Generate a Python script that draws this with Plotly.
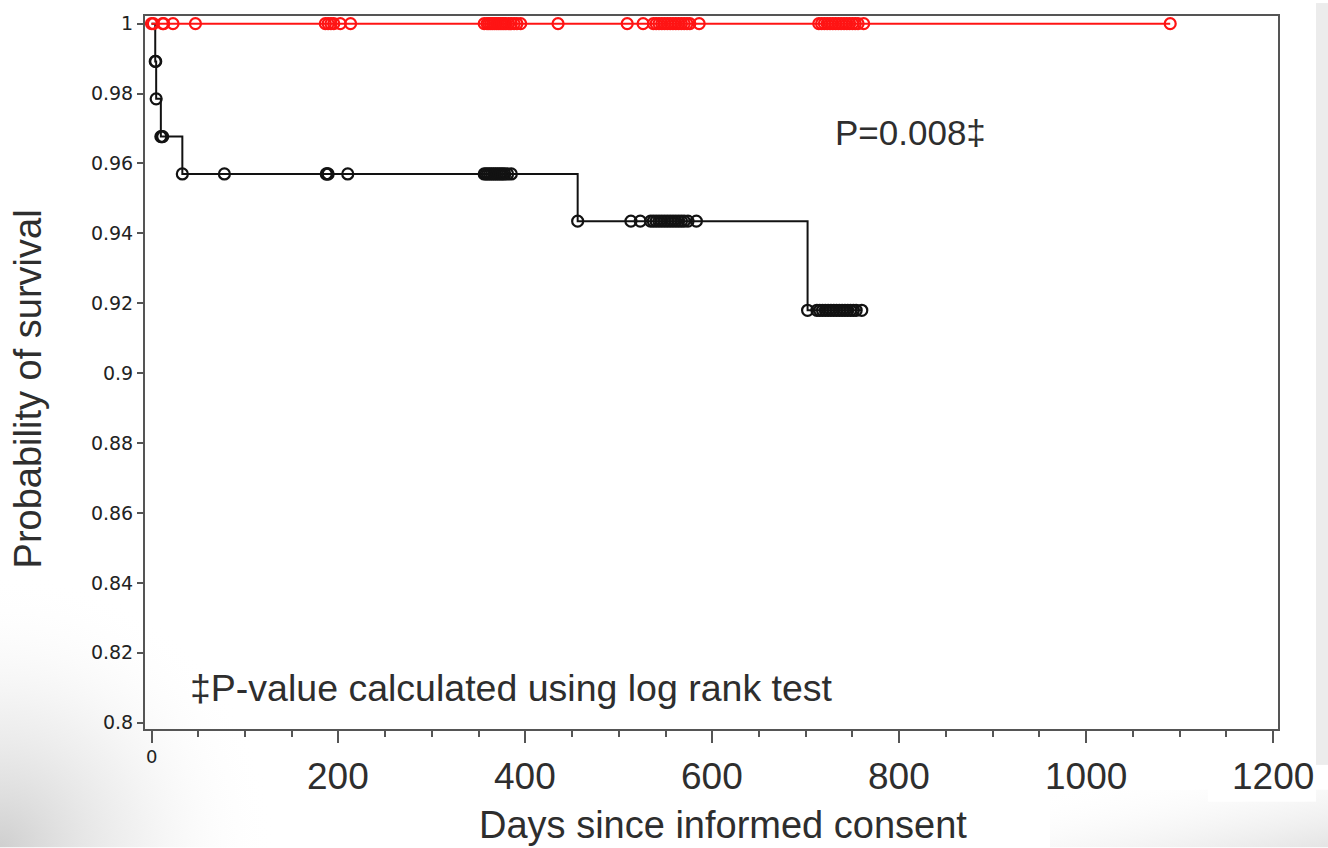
import numpy as np
import urllib.parse
import plotly.graph_objects as go

# ---------------- data ----------------
# Kaplan-Meier step curve, group shown in black
black_times = [0, 4, 5, 10, 33, 456, 702, 760]
black_surv = [1.0, 0.9892, 0.9785, 0.9677, 0.9570, 0.9435, 0.9180, 0.9180]
# censor marks (days) for black group
black_censor = [4, 4.5, 5, 10, 11, 12, 33, 78, 187, 188, 189, 210,
                356, 358, 360, 362, 364, 366, 368, 370, 372, 374, 376, 378, 381, 385,
                456, 513, 523, 534, 537, 540, 543, 546, 549, 552, 555, 558, 561, 564,
                567, 570, 574, 583,
                702, 712, 715, 718, 721, 724, 727, 730, 733, 736, 739, 742, 745, 748,
                751, 754, 760]

# group shown in red: no events
red_times = [0, 1090]
red_surv = [1.0, 1.0]
red_censor = [0, 2, 12, 13, 23, 47, 186, 189, 192, 195, 202, 213,
              356, 359, 361, 363, 365, 367, 369, 371, 373, 375, 377, 379, 382, 385,
              388, 391, 395, 435, 509, 526, 537, 540, 543, 546, 549, 552, 555, 558,
              561, 564, 567, 570, 573, 576, 586, 714, 717, 720, 723, 726, 729, 732,
              735, 738, 741, 744, 747, 750, 753, 756, 762, 1090]

y_ticks = [0.8, 0.82, 0.84, 0.86, 0.88, 0.9, 0.92, 0.94, 0.96, 0.98, 1.0]
y_tick_labels = ["0.8", "0.82", "0.84", "0.86", "0.88", "0.9", "0.92", "0.94",
                 "0.96", "0.98", "1"]
x_major = [0, 200, 400, 600, 800, 1000, 1200]
x_tick_labels = ["0", "200", "400", "600", "800", "1000", "1200"]
x_minor = list(range(0, 1201, 50))

p_text = "P=0.008\u2021"
foot_text = "\u2021P-value calculated using log rank test"
x_title = "Days since informed consent"
y_title = "Probability of survival"


def km_at(times, surv, t):
    idx = np.searchsorted(np.asarray(times), np.asarray(t), side="right") - 1
    return np.asarray(surv)[idx]


# ---------------- layout constants (pixels) ----------------
W, H = 1328, 848
L, R, T, B = 145, 1278, 13, 729
PW, PH = R - L, B - T


def px_x(p):
    return (p - L) / PW


def px_y(p):
    return (B - p) / PH


RED = "#ff1414"
BLK = "#121212"
TXT = "#2e2e2e"
FRAME = "#555555"

fig = go.Figure()

# black curve
fig.add_trace(go.Scatter(x=black_times, y=black_surv, mode="lines",
                         line=dict(color=BLK, width=2, shape="hv"),
                         showlegend=False, hoverinfo="skip"))
fig.add_trace(go.Scatter(x=black_censor, y=km_at(black_times, black_surv, black_censor),
                         mode="markers",
                         marker=dict(symbol="circle-open", size=11, color=BLK,
                                     line=dict(width=2.2, color=BLK)),
                         showlegend=False, hoverinfo="skip"))
# red curve
fig.add_trace(go.Scatter(x=red_times, y=red_surv, mode="lines",
                         line=dict(color=RED, width=2, shape="hv"),
                         showlegend=False, hoverinfo="skip"))
fig.add_trace(go.Scatter(x=red_censor, y=km_at(red_times, red_surv, red_censor),
                         mode="markers",
                         marker=dict(symbol="circle-open", size=11, color=RED,
                                     line=dict(width=2.2, color=RED)),
                         showlegend=False, hoverinfo="skip"))

# background (slide) as an SVG image
svg = (
    f"<svg xmlns='http://www.w3.org/2000/svg' width='{W}' height='{H}'>"
    "<defs>"
    "<radialGradient id='g1' cx='0' cy='1' r='0.6' gradientUnits='objectBoundingBox'>"
    "<stop offset='0' stop-color='#cfcfcf'/><stop offset='0.5' stop-color='#e8e8e8' stop-opacity='0.6'/>"
    "<stop offset='1' stop-color='#ffffff' stop-opacity='0'/>"
    "</radialGradient>"
    "<linearGradient id='g2' x1='0' y1='0' x2='1' y2='1'>"
    "<stop offset='0' stop-color='#ffffff' stop-opacity='0'/><stop offset='1' stop-color='#e4e4e4'/>"
    "</linearGradient>"
    "</defs>"
    f"<rect width='{W}' height='{H}' fill='#ffffff'/>"
    f"<rect x='0' y='{H-460}' width='460' height='460' fill='url(#g1)'/>"
    f"<rect x='1050' y='790' width='{W-1050}' height='{H-790}' fill='url(#g2)'/>"
    f"<rect x='1316' y='0' width='{W-1316}' height='765' fill='#ececec'/>"
    f"<rect x='1208' y='765' width='108' height='37' fill='#ffffff'/>"
    "</svg>"
)
svg_uri = "data:image/svg+xml;charset=utf-8," + urllib.parse.quote(svg)
fig.add_layout_image(dict(source=svg_uri, xref="paper", yref="paper",
                          x=px_x(0), y=px_y(0), sizex=W / PW, sizey=H / PH,
                          xanchor="left", yanchor="top", sizing="stretch",
                          layer="below"))

annotations = []
# x tick labels (0 small, others large)
for v, lab in zip(x_major, x_tick_labels):
    if lab == "0":
        annotations.append(dict(x=v, y=px_y(757), xref="x", yref="paper", text=lab,
                                showarrow=False, xanchor="center", yanchor="middle",
                                font=dict(family="DejaVu Sans", size=18, color="#222222")))
    else:
        annotations.append(dict(x=v, y=px_y(777), xref="x", yref="paper", text=lab,
                                showarrow=False, xanchor="center", yanchor="middle",
                                font=dict(family="Liberation Sans", size=37, color=TXT)))
annotations.append(dict(x=px_x(723), y=px_y(825), xref="paper", yref="paper", text=x_title,
                        showarrow=False, xanchor="center", yanchor="middle",
                        font=dict(family="Liberation Sans", size=38, color=TXT)))
annotations.append(dict(x=px_x(28), y=px_y(388), xref="paper", yref="paper", text=y_title,
                        showarrow=False, xanchor="center", yanchor="middle", textangle=-90,
                        font=dict(family="Liberation Sans", size=38, color=TXT)))
annotations.append(dict(x=px_x(833), y=px_y(130), xref="paper", yref="paper", text=p_text,
                        showarrow=False, xanchor="left", yanchor="middle",
                        font=dict(family="Liberation Sans", size=35, color=TXT)))
annotations.append(dict(x=px_x(188), y=px_y(688), xref="paper", yref="paper", text=foot_text,
                        showarrow=False, xanchor="left", yanchor="middle",
                        font=dict(family="Liberation Sans", size=37.5, color=TXT)))

x0_px, x1200_px = 151.5, 1273.0
ppd = (x1200_px - x0_px) / 1200.0
xr = [(L - x0_px) / ppd, (R - x0_px) / ppd]
y1_px, y08_px = 20.7, 722.7
ppu = (y08_px - y1_px) / 0.2
yr = [1.0 - (B - y1_px) / ppu, 1.0 + (y1_px - T) / ppu]

fig.update_layout(
    width=W, height=H,
    margin=dict(l=L, r=W - R, t=T, b=H - B, pad=0),
    paper_bgcolor="white", plot_bgcolor="rgba(0,0,0,0)",
    showlegend=False,
    annotations=annotations,
    xaxis=dict(range=xr, showgrid=False, zeroline=False, showline=True,
               linecolor=FRAME, linewidth=2, mirror=True,
               tickmode="array", tickvals=x_major, ticks="outside", ticklen=12,
               tickwidth=2, tickcolor=FRAME, showticklabels=False,
               minor=dict(tickmode="array", tickvals=x_minor, ticks="outside",
                          ticklen=6, tickwidth=1.5, tickcolor=FRAME, showgrid=False)),
    yaxis=dict(range=yr, showgrid=False, zeroline=False, showline=True,
               linecolor=FRAME, linewidth=2, mirror=True,
               tickmode="array", tickvals=y_ticks, ticktext=y_tick_labels,
               ticks="outside", ticklen=6, tickwidth=1.5, tickcolor=FRAME,
               tickfont=dict(family="DejaVu Sans", size=19, color="#222222")),
)

fig.write_html("out.html")
